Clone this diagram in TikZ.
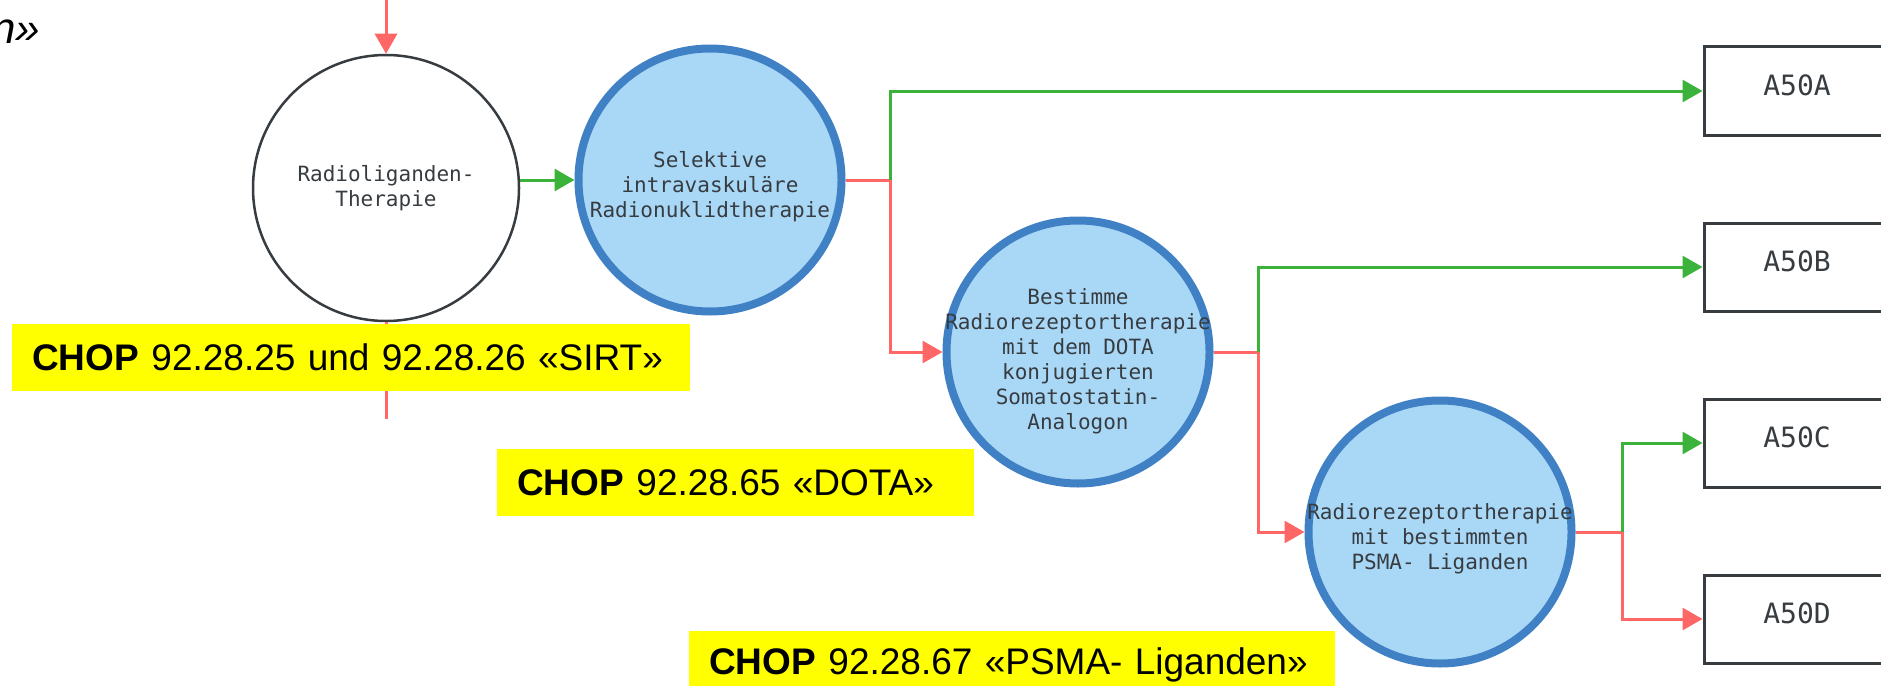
\documentclass[tikz,border=0pt]{standalone}
\usepackage{fontspec}
\setmainfont{Liberation Sans}
\setmonofont{DejaVu Sans Mono}
\usepackage{tikz}
\usetikzlibrary{shapes, arrows.meta}

\definecolor{rline}{HTML}{FF6666}
\definecolor{gline}{HTML}{3BB33B}
\definecolor{cblue}{HTML}{3F81C4}
\definecolor{cfill}{HTML}{A9D8F7}
\definecolor{cgray}{HTML}{373C41}
\definecolor{chop}{HTML}{FFFF00}

\tikzstyle{wcell} = [circle, draw=cgray, line width=2.5pt, fill=white, minimum size=266pt, inner sep=0pt]
\tikzstyle{bcell} = [circle, draw=cblue, line width=8pt, fill=cfill, minimum size=263pt, inner sep=0pt]
\tikzstyle{ctext} = [text=cgray, font=\ttfamily\fontsize{21}{25}\selectfont, align=center]
\tikzstyle{code} = [rectangle, draw=cgray, line width=3pt, fill=white, minimum width=186pt, minimum height=88pt, text depth=12pt, text=cgray, font=\ttfamily\fontsize{28}{32}\selectfont]
\tikzstyle{chopbox} = [rectangle, fill=chop, anchor=north west, inner xsep=20pt, minimum height=67pt, align=left, font=\fontsize{37}{44}\selectfont]
\tikzstyle{yesline} = [draw=gline, line width=3pt, -{Triangle[length=20pt, width=22pt]}]
\tikzstyle{noline} = [draw=rline, line width=3pt, -{Triangle[length=20pt, width=22pt]}]

\begin{document}
\begin{tikzpicture}[x=1pt, y=-1pt]
    \path[use as bounding box, clip] (0,0) rectangle (1881,685);

    \node[font=\itshape\fontsize{44}{50}\selectfont, anchor=base west, inner sep=0pt] (tail) at (-9,44) {n»};

    % Therapie-Knoten
    \node[wcell, label={[ctext]center:Radioliganden-\\Therapie}] (rlt) at (386,188) {};
    \node[bcell, label={[ctext, yshift=-7pt]center:Selektive\\intravaskuläre\\Radionuklidtherapie}] (sirt) at (710,180) {};
    \node[bcell, label={[ctext, yshift=-9pt]center:Bestimme\\Radiorezeptortherapie\\mit dem DOTA\\konjugierten\\Somatostatin-\\Analogon}] (dota) at (1078,352) {};
    \node[bcell, label={[ctext, yshift=-7pt]center:Radiorezeptortherapie\\mit bestimmten\\PSMA- Liganden}] (psma) at (1440,532) {};

    % Ergebnisse
    \node[code] (a50a) at (1797,91) {A50A};
    \node[code] (a50b) at (1797,267) {A50B};
    \node[code] (a50c) at (1797,443) {A50C};
    \node[code] (a50d) at (1797,619) {A50D};

    \coordinate (in) at (386,0);
    \coordinate (out) at (386,419);
    \coordinate (j1) at (890,180);
    \coordinate (j2) at (1258,352);
    \coordinate (j3) at (1622,532);

    \path[noline] (in) -- (rlt);
    \draw[rline, line width=3pt] (rlt) -- (out);
    \path[yesline] (rlt.east |- sirt) -- (sirt);

    \draw[rline, line width=3pt] (sirt) -- (j1);
    \path[yesline] (j1) |- (a50a);
    \path[noline] (j1) |- (dota);

    \draw[rline, line width=3pt] (dota) -- (j2);
    \path[yesline] (j2) |- (a50b);
    \path[noline] (j2) |- (psma);

    \draw[rline, line width=3pt] (psma) -- (j3);
    \path[yesline] (j3) |- (a50c);
    \path[noline] (j3) |- (a50d);

    % CHOP-Kodes
    \node[chopbox, text width=638pt] (chopsirt) at (12,324) {\mbox{\textbf{CHOP} 92.28.25 und 92.28.26 «SIRT»}};
    \node[chopbox, text width=437pt] (chopdota) at (497,449) {\mbox{\textbf{CHOP} 92.28.65 «DOTA»}};
    \node[chopbox, text width=606pt] (choppsma) at (689,631) {\mbox{\textbf{CHOP} 92.28.67 «PSMA- Liganden»}};
\end{tikzpicture}
\end{document}
